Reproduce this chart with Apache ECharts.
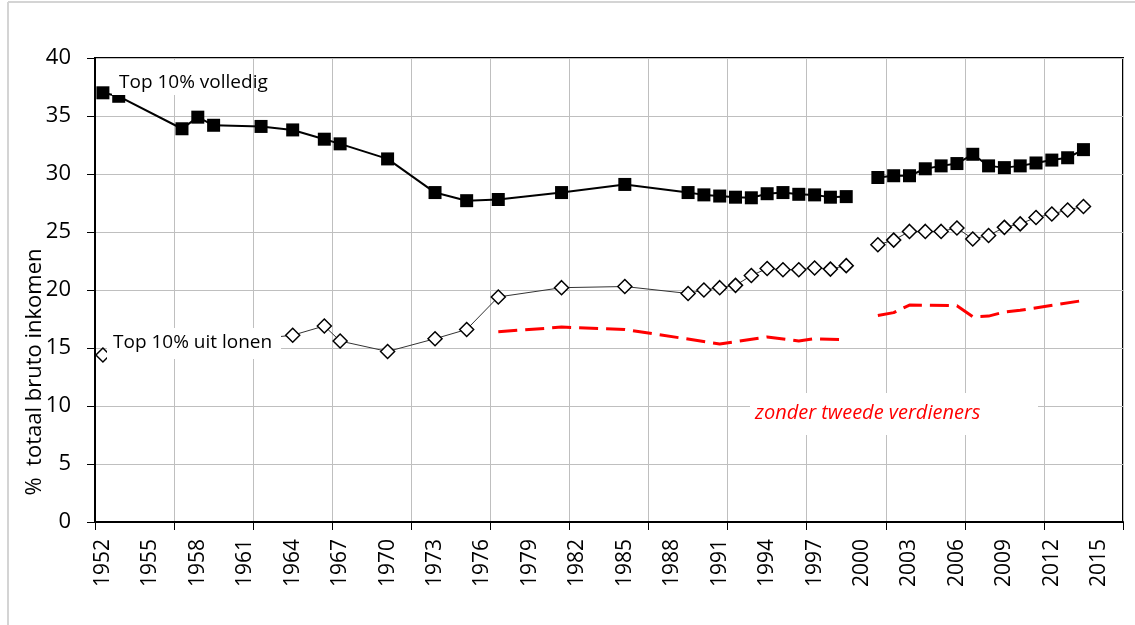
<!DOCTYPE html>
<html>
<head>
<meta charset="utf-8">
<title>Top 10% aandeel bruto inkomen</title>
<script src="https://cdn.jsdelivr.net/npm/echarts@6/dist/echarts.min.js"></script>
<style>
  html, body { margin: 0; padding: 0; background: #fff; }
  #main { width: 1135px; height: 625px; }
</style>
</head>
<body>
<div id="main"></div>
<script>
// x-as: een categorie per jaar, labels om de 3 jaar
var years = ['1952', '1953', '1954', '1955', '1956', '1957', '1958', '1959', '1960', '1961',
  '1962', '1963', '1964', '1965', '1966', '1967', '1968', '1969', '1970', '1971',
  '1972', '1973', '1974', '1975', '1976', '1977', '1978', '1979', '1980', '1981',
  '1982', '1983', '1984', '1985', '1986', '1987', '1988', '1989', '1990', '1991',
  '1992', '1993', '1994', '1995', '1996', '1997', '1998', '1999', '2000', '2001',
  '2002', '2003', '2004', '2005', '2006', '2007', '2008', '2009', '2010', '2011',
  '2012', '2013', '2014', '2015', '2016']

// Top 10% volledig (null = breuk in de reeks)
var volledigJaren = [1952, 1953, 1957, 1958, 1959, 1962, 1964, 1966, 1967, 1970, 1973, 1975, 1977, 1981, 1985,
  1989, 1990, 1991, 1992, 1993, 1994, 1995, 1996, 1997, 1998, 1999, 2000,
  2001, 2002, 2003, 2004, 2005, 2006, 2007, 2008, 2009, 2010, 2011, 2012, 2013, 2014]
var volledig = [37.0, 36.7, 33.9, 34.9, 34.2, 34.1, 33.8, 33.0, 32.6, 31.3, 28.4, 27.7, 27.8, 28.4, 29.1,
  28.4, 28.2, 28.1, 28.0, 27.95, 28.3, 28.4, 28.25, 28.2, 28.0, 28.05, null,
  29.7, 29.85, 29.85, 30.45, 30.7, 30.9, 31.7, 30.7, 30.55, 30.7, 30.95, 31.2, 31.4, 32.1]

// Top 10% uit lonen
var lonenJaren = [1952, 1964, 1966, 1967, 1970, 1973, 1975, 1977, 1981, 1985,
  1989, 1990, 1991, 1992, 1993, 1994, 1995, 1996, 1997, 1998, 1999, 2000,
  2001, 2002, 2003, 2004, 2005, 2006, 2007, 2008, 2009, 2010, 2011, 2012, 2013, 2014]
var lonen = [14.4, 16.1, 16.9, 15.6, 14.7, 15.8, 16.6, 19.4, 20.2, 20.3,
  19.7, 20.0, 20.2, 20.4, 21.25, 21.85, 21.75, 21.75, 21.9, 21.8, 22.1, null,
  23.9, 24.3, 25.05, 25.05, 25.05, 25.35, 24.4, 24.7, 25.4, 25.7, 26.25, 26.55, 26.9, 27.2]

// zonder tweede verdieners
var zonderJaren = [1977, 1981, 1985, 1991, 1994, 1996, 1997, 1999, 2000,
  2001, 2002, 2003, 2006, 2007, 2008, 2009, 2010, 2014]
var zonder = [16.4, 16.8, 16.6, 15.35, 15.95, 15.6, 15.8, 15.7, null,
  17.8, 18.05, 18.7, 18.65, 17.7, 17.75, 18.1, 18.25, 19.1]

var yTicks = { min: 0, max: 40, interval: 5 }

function pairs (jaren, waarden) {
  var out = []
  for (var i = 0; i < jaren.length; i++) {
    out.push([String(jaren[i]), waarden[i] === null ? '-' : waarden[i]])
  }
  return out
}

var font = 'Open Sans'

var option = {
  animation: false,
  backgroundColor: '#fff',
  grid: {
    left: 95,
    right: 12,
    top: 58,
    bottom: 103,
    show: true,
    borderColor: '#000',
    borderWidth: 2
  },
  xAxis: {
    type: 'category',
    data: years,
    boundaryGap: true,
    axisLine: { lineStyle: { color: '#000', width: 2 } },
    axisTick: { show: true, interval: 4, length: 8, lineStyle: { color: '#000', width: 1 } },
    axisLabel: {
      interval: 2,
      rotate: 90,
      margin: 17,
      color: '#000',
      fontSize: 21,
      fontFamily: font
    },
    splitLine: { show: true, interval: 4, lineStyle: { color: '#bfbfbf', width: 1 } }
  },
  yAxis: {
    type: 'value',
    min: yTicks.min,
    max: yTicks.max,
    interval: yTicks.interval,
    axisLine: { show: true, lineStyle: { color: '#000', width: 2 } },
    axisTick: { show: true, length: 8, lineStyle: { color: '#000', width: 1 } },
    axisLabel: { margin: 24, color: '#000', fontSize: 22, fontFamily: font },
    splitLine: { show: true, lineStyle: { color: '#bfbfbf', width: 1 } }
  },
  series: [
    {
      name: 'zonder tweede verdieners',
      type: 'line',
      data: pairs(zonderJaren, zonder),
      showSymbol: false,
      symbol: 'none',
      lineStyle: { color: '#ff0000', width: 3, type: [19, 8] },
      z: 2
    },
    {
      name: 'Top 10% uit lonen',
      type: 'line',
      data: pairs(lonenJaren, lonen),
      symbol: 'diamond',
      symbolSize: 14,
      showAllSymbol: true,
      itemStyle: { color: '#fff', borderColor: '#000', borderWidth: 1.5 },
      lineStyle: { color: '#333', width: 1 },
      z: 3
    },
    {
      name: 'Top 10% volledig',
      type: 'line',
      data: pairs(volledigJaren, volledig),
      symbol: 'rect',
      symbolSize: 13,
      showAllSymbol: true,
      itemStyle: { color: '#000' },
      lineStyle: { color: '#000', width: 2 },
      z: 4
    }
  ],
  graphic: [
    // grijze kader rond de figuur
    { type: 'line', shape: { x1: 8, y1: 2, x2: 1135, y2: 2 }, style: { stroke: '#d4d4d4', lineWidth: 2 }, z: 100 },
    { type: 'line', shape: { x1: 8, y1: 2, x2: 8, y2: 625 }, style: { stroke: '#d4d4d4', lineWidth: 2 }, z: 100 },
    // as-titel
    {
      type: 'text',
      x: 35,
      y: 372,
      rotation: Math.PI / 2,
      style: {
        text: '%  totaal bruto inkomen',
        font: '22px "Open Sans"',
        fill: '#000',
        align: 'center',
        verticalAlign: 'middle'
      },
      z: 100
    },
    // labels met witte achtergrond
    { type: 'rect', shape: { x: 112, y: 60, width: 140, height: 35 }, style: { fill: '#fff' }, z: 100 },
    {
      type: 'text', x: 119, y: 83,
      style: { text: 'Top 10% volledig', font: '19px "Open Sans"', fill: '#000', verticalAlign: 'middle' },
      z: 101
    },
    { type: 'rect', shape: { x: 107, y: 328, width: 174, height: 31 }, style: { fill: '#fff' }, z: 100 },
    {
      type: 'text', x: 113, y: 343,
      style: { text: 'Top 10% uit lonen', font: '19px "Open Sans"', fill: '#000', verticalAlign: 'middle' },
      z: 101
    },
    { type: 'rect', shape: { x: 750, y: 393, width: 288, height: 42 }, style: { fill: '#fff' }, z: 100 },
    {
      type: 'text', x: 755, y: 413,
      style: { text: 'zonder tweede verdieners', font: 'italic 20px "Open Sans"', fill: '#ff0000', verticalAlign: 'middle' },
      z: 101
    }
  ]
}

var chart = echarts.init(document.getElementById('main'))
chart.setOption(option)
</script>
</body>
</html>
